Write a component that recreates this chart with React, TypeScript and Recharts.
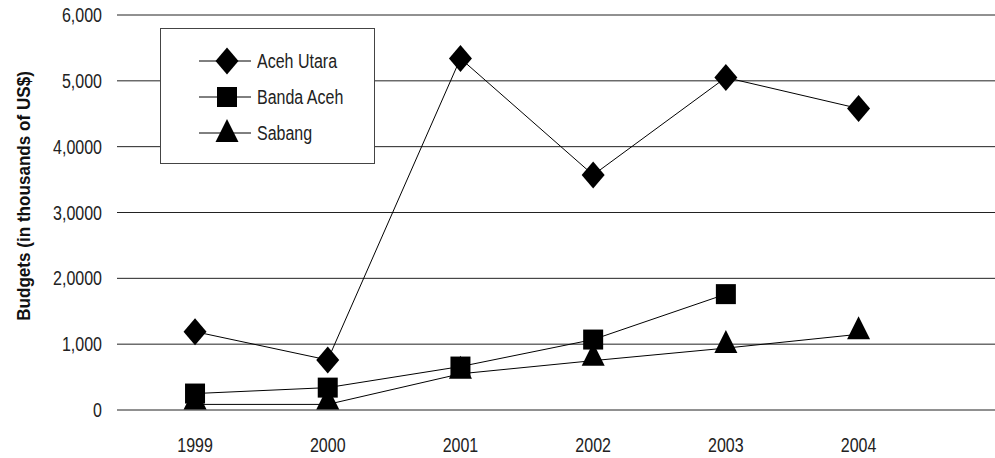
import { CartesianGrid, Label, Legend, Line, LineChart, XAxis, YAxis } from "recharts";

const years = [1999, 2000, 2001, 2002, 2003, 2004];
const acehUtara = [1190, 760, 5340, 3570, 5050, 4580];
const bandaAceh = [250, 340, 660, 1070, 1760, null];
const sabang = [85, 85, 550, 750, 940, 1150];

const yTicks = [0, 1000, 2000, 3000, 4000, 5000, 6000];
const yTickLabels = ["0", "1,000", "2,0000", "3,0000", "4,0000", "5,000", "6,000"];

const seriesNames = ["Aceh Utara", "Banda Aceh", "Sabang"];
const seriesKeys = ["acehUtara", "bandaAceh", "sabang"];
const seriesMarkers = ["diamond", "square", "triangle"];

const data = years.map((year, i) => ({
  year,
  acehUtara: acehUtara[i],
  bandaAceh: bandaAceh[i],
  sabang: sabang[i],
}));

// condensed look: plain sans squeezed horizontally
const FONT = "'Liberation Sans', Arial, sans-serif";
const SQUEEZE = 0.8;

const markerPath = (shape: string, cx: number, cy: number) => {
  if (shape === "diamond") {
    return `M${cx},${cy - 13.5}L${cx + 11.5},${cy}L${cx},${cy + 13.5}L${cx - 11.5},${cy}Z`;
  }
  if (shape === "square") {
    return `M${cx - 10},${cy - 10}h20v20h-20Z`;
  }
  // excel-style triangle sits a bit above its point
  return `M${cx},${cy - 18}L${cx + 11.5},${cy + 5}L${cx - 11.5},${cy + 5}Z`;
};

const makeDot = (shape: string) => (props: any) => {
  const { cx, cy, index } = props;
  if (cx == null || cy == null || props.value == null) return <g key={index} />;
  return <path key={index} d={markerPath(shape, cx, cy)} fill="#000" stroke="none" />;
};

const XTick = (props: any) => (
  <g transform={`translate(${props.x},${props.y})`}>
    <text transform={`scale(${SQUEEZE},1)`} textAnchor="middle" dy="0.71em" fontFamily={FONT} fontSize={20} fill="#222">
      {props.payload.value}
    </text>
  </g>
);

const YTick = (props: any) => (
  <g transform={`translate(${props.x},${props.y})`}>
    <text transform={`scale(${SQUEEZE},1)`} textAnchor="end" dy="0.355em" fontFamily={FONT} fontSize={20} fill="#222">
      {yTickLabels[yTicks.indexOf(props.payload.value)]}
    </text>
  </g>
);

const LegendBox = () => (
  <div
    style={{
      width: 215,
      height: 136,
      boxSizing: "border-box",
      border: "1px solid #444",
      background: "#fff",
      paddingTop: 14,
      fontFamily: FONT,
      fontSize: 20,
      color: "#222",
    }}
  >
    {seriesNames.map((name, i) => (
      <div key={name} style={{ display: "flex", alignItems: "center", height: 36 }}>
        <svg width={96} height={30} style={{ flex: "none" }}>
          <line x1={38} y1={15} x2={90} y2={15} stroke="#000" strokeWidth={1} />
          <path d={markerPath(seriesMarkers[i], 66, seriesMarkers[i] === "triangle" ? 19 : 15)} fill="#000" />
        </svg>
        <span style={{ display: "inline-block", transform: `scaleX(${SQUEEZE})`, transformOrigin: "left center", whiteSpace: "nowrap" }}>
          {name}
        </span>
      </div>
    ))}
  </div>
);

export default function App() {
  return (
    <div style={{ position: "absolute", left: 0, top: 0, background: "#fff" }}>
      <LineChart width={995} height={458} data={data} margin={{ top: 15, right: 0, left: 0, bottom: 0 }}>
        <CartesianGrid vertical={false} stroke="#222" strokeWidth={1} />
        <XAxis
          dataKey="year"
          type="number"
          domain={[1998.412, 2005.028]}
          allowDataOverflow
          ticks={years}
          axisLine={false}
          tickLine={false}
          tickSize={0}
          tickMargin={28}
          height={48}
          tick={<XTick />}
        />
        <YAxis
          domain={[0, 6000]}
          ticks={yTicks}
          axisLine={false}
          tickLine={false}
          tickSize={0}
          tickMargin={15}
          width={117}
          tick={<YTick />}
        >
          <Label
            content={() => (
              <g transform="translate(23,196) rotate(-90)">
                <text
                  transform="scale(0.9,1)"
                  textAnchor="middle"
                  dy="0.355em"
                  fontFamily={FONT}
                  fontWeight="bold"
                  fontSize={19}
                  fill="#111"
                >
                  Budgets (in thousands of US$)
                </text>
              </g>
            )}
          />
        </YAxis>
        <Legend
          layout="horizontal"
          align="center"
          verticalAlign="middle"
          content={() => <LegendBox />}
          wrapperStyle={{ left: 160, top: 28, width: 215, height: 136 }}
        />
        {seriesKeys.map((key, i) => (
          <Line
            key={key}
            dataKey={key}
            name={seriesNames[i]}
            stroke="#000"
            strokeWidth={1}
            dot={makeDot(seriesMarkers[i])}
            activeDot={false}
            isAnimationActive={false}
          />
        ))}
      </LineChart>
    </div>
  );
}
